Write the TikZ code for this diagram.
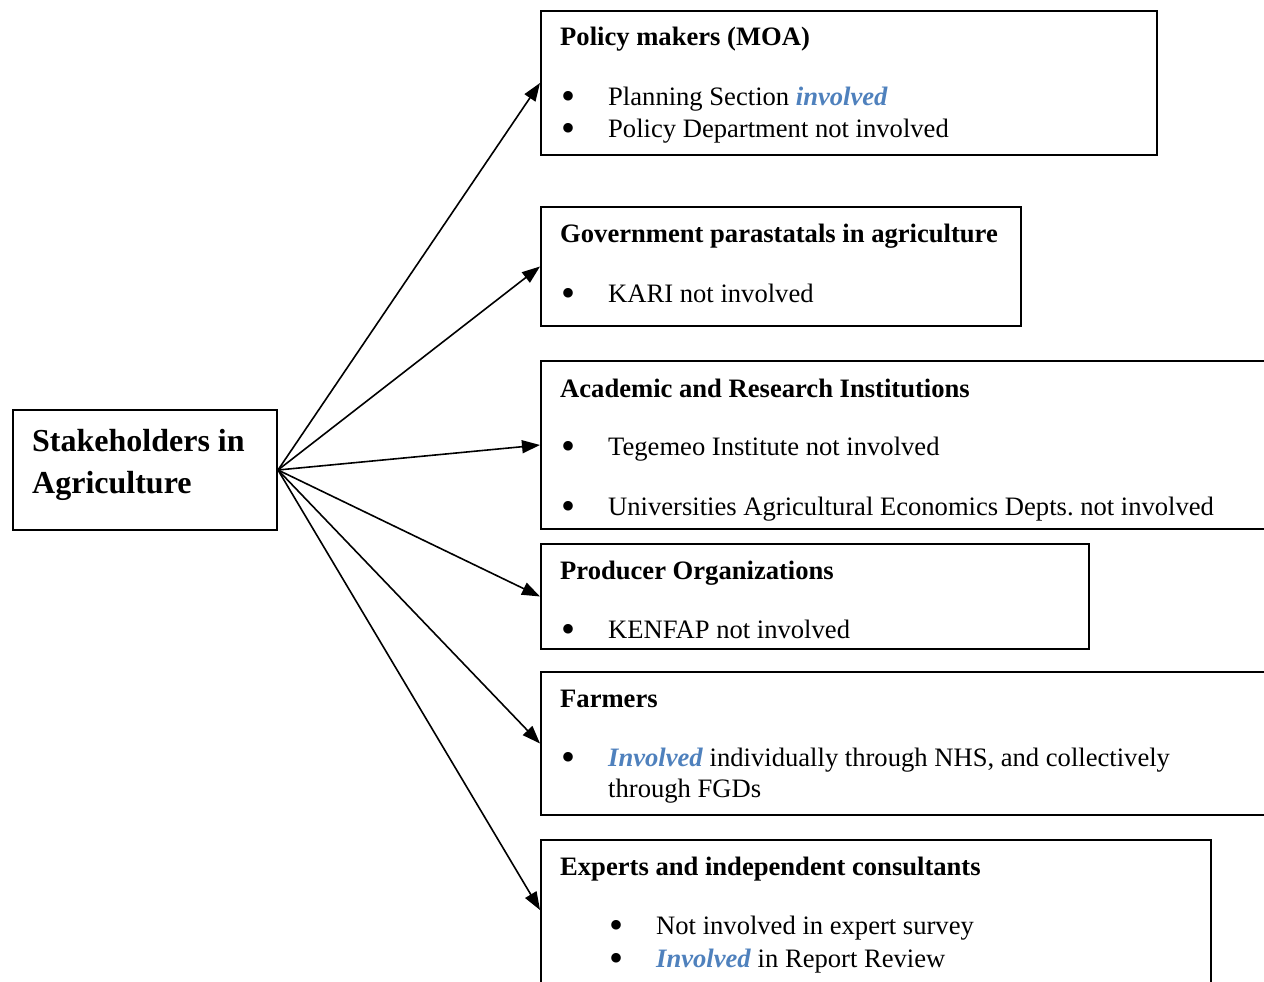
\documentclass[tikz,border=0pt]{standalone}
\usepackage{fontspec}
\setmainfont{Liberation Serif}
\usetikzlibrary{arrows.meta}
\definecolor{accblue}{RGB}{79,129,189}
\tikzset{
  box/.style={draw=black, line width=2pt, inner sep=0pt, anchor=north west, rectangle},
  txt/.style={anchor=base west, inner sep=0pt, font=\fontsize{26.6}{31.5}\selectfont},
  ttl/.style={txt, font=\fontsize{26.6}{31.5}\selectfont\bfseries},
  big/.style={anchor=base west, inner sep=0pt, font=\fontsize{32}{42}\selectfont\bfseries},
  conn/.style={line width=1.6pt, -{Triangle[length=18pt,width=13pt]}}
}
\newcommand{\bul}[1]{\makebox[#1pt][l]{\smash{\raisebox{-4pt}{\fontsize{40}{0}\selectfont\textbullet}}}}
\newcommand{\inv}[1]{\textcolor{accblue}{\textbf{\textit{#1}}}}
\frenchspacing
\begin{document}
\begin{tikzpicture}[x=1pt,y=-1pt]
\useasboundingbox (0,0) rectangle (1264,982);
\fill[white] (0,0) rectangle (1264,982);
\clip (0,0) rectangle (1264,982);

% central box
\node[box, minimum width=264pt, minimum height=120pt] (s) at (12,409) {};
\node[big] (s1) at (32,451) {Stakeholders in};
\node[big] (s2) at (32,493) {Agriculture};

% box 1
\node[box, minimum width=616pt, minimum height=144pt] (b1) at (540,10) {};
\node[ttl] (b1t) at (560,46) {Policy makers (MOA)};
\node[txt] (b1a) at (561,106) {\bul{47}Planning Section \inv{involved}};
\node[txt] (b1b) at (561,137) {\bul{47}Policy Department not involved};

% box 2
\node[box, minimum width=480pt, minimum height=119pt] (b2) at (540,206) {};
\node[ttl] (b2t) at (560,242) {Government parastatals in agriculture};
\node[txt] (b2a) at (561,302) {\bul{47}KARI not involved};

% box 3
\node[box, minimum width=760pt, minimum height=168pt] (b3) at (540,360) {};
\node[ttl] (b3t) at (560,397) {Academic and Research Institutions};
\node[txt] (b3a) at (561,455) {\bul{47}Tegemeo Institute not involved};
\node[txt] (b3b) at (561,515) {\bul{47}Universities Agricultural Economics Depts. not involved};

% box 4
\node[box, minimum width=548pt, minimum height=105pt] (b4) at (540,543) {};
\node[ttl] (b4t) at (560,579) {Producer Organizations};
\node[txt] (b4a) at (561,638) {\bul{47}KENFAP not involved};

% box 5
\node[box, minimum width=760pt, minimum height=143pt] (b5) at (540,671) {};
\node[ttl] (b5t) at (560,707) {Farmers};
\node[txt] (b5a) at (561,766) {\bul{47}\inv{Involved} individually through NHS, and collectively};
\node[txt] (b5b) at (608,797) {through FGDs};

% box 6
\node[box, minimum width=670pt, minimum height=160pt] (b6) at (540,839) {};
\node[ttl] (b6t) at (560,875) {Experts and independent consultants};
\node[txt] (b6a) at (609,934) {\bul{47}Not involved in expert survey};
\node[txt] (b6b) at (609,967) {\bul{47}\inv{Involved} in Report Review};

% connectors
\draw[conn] (s.east) -- (b1.west);
\draw[conn] (s.east) -- (b2.west);
\draw[conn] (s.east) -- (b3.west);
\draw[conn] (s.east) -- (b4.west);
\draw[conn] (s.east) -- (b5.west);
\draw[conn] (s.east) -- ([yshift=-71pt]b6.north west);
\end{tikzpicture}
\end{document}
